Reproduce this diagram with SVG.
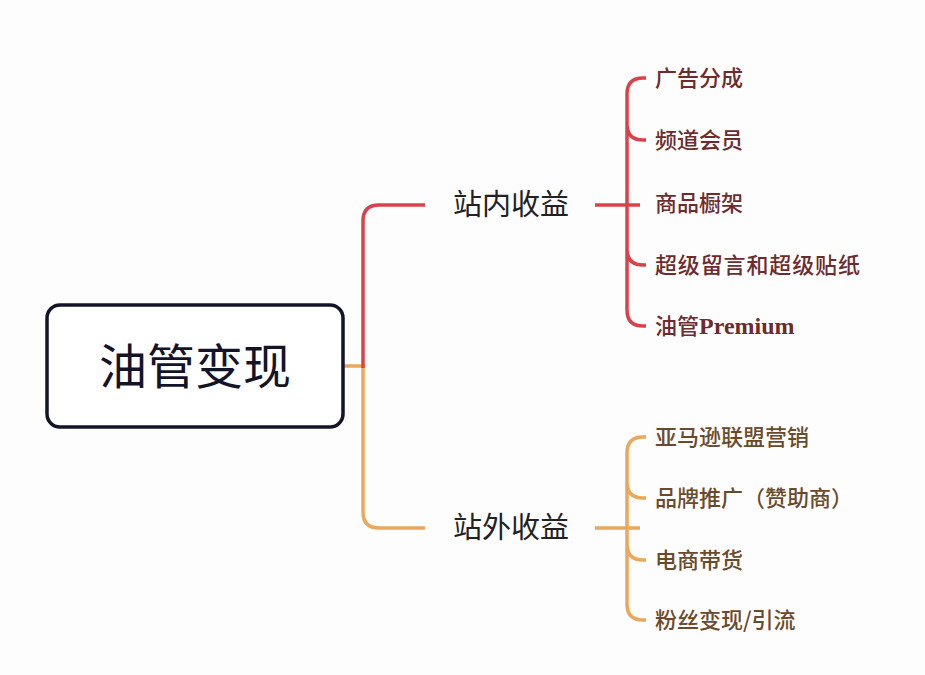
<svg xmlns="http://www.w3.org/2000/svg" width="925" height="675" viewBox="0 0 925 675">
<style>
.c{fill:none;stroke-width:3.5;stroke-linecap:butt}
.r{stroke:#d9414b}.o{stroke:#e9a85c}
text{font-family:"Noto Sans CJK SC","Noto Sans",sans-serif}
.l1{font-size:29px;fill:#222}
.lr{font-size:22px;fill:#6e2b2e;font-weight:500}
.lo{font-size:22px;fill:#6b4a2c;font-weight:500}
</style>
<rect width="925" height="675" fill="#fdfdfd"/>
<g id="connectors">
<path class="c o" d="M343 366H363V512Q363 528 379 528H425"/>
<path class="c r" d="M363 368V221Q363 205 379 205H425"/>
<path class="c r" d="M595 205H640M627 205V94Q627 78 643 78H646M627 124Q627 140 643 140H646M627 249Q627 265 643 265H646M627 205V310Q627 326 643 326H646"/>
<path class="c o" d="M595 528H640M627 528V453Q627 437 643 437H646M627 482Q627 498 643 498H646M627 544Q627 560 643 560H646M627 528V604Q627 620 643 620H646"/>
</g>
<g id="root"><rect x="47" y="305" width="296" height="122" rx="13" fill="#fff" stroke="#141428" stroke-width="3.5"/><text x="195" y="384" font-size="48" fill="#141428" text-anchor="middle">油管变现</text></g>
<g id="n1"><text class="l1" x="453" y="215">站内收益</text></g>
<g id="n2"><text class="l1" x="453" y="538">站外收益</text></g>
<g id="r1"><text class="lr" x="655" y="86">广告分成</text></g>
<g id="r2"><text class="lr" x="655" y="148">频道会员</text></g>
<g id="r3"><text class="lr" x="655" y="211">商品橱架</text></g>
<g id="r4"><text class="lr" x="655" y="273" textLength="205">超级留言和超级贴纸</text></g>
<g id="r5"><text class="lr" x="655" y="334">油管<tspan font-family="'Liberation Serif',serif" font-size="24" font-weight="bold">Premium</tspan></text></g>
<g id="o1"><text class="lo" x="655" y="445">亚马逊联盟营销</text></g>
<g id="o2"><text class="lo" x="655" y="506">品牌推广（赞助商）</text></g>
<g id="o3"><text class="lo" x="655" y="568">电商带货</text></g>
<g id="o4"><text class="lo" x="655" y="628">粉丝变现/引流</text></g>
</svg>
